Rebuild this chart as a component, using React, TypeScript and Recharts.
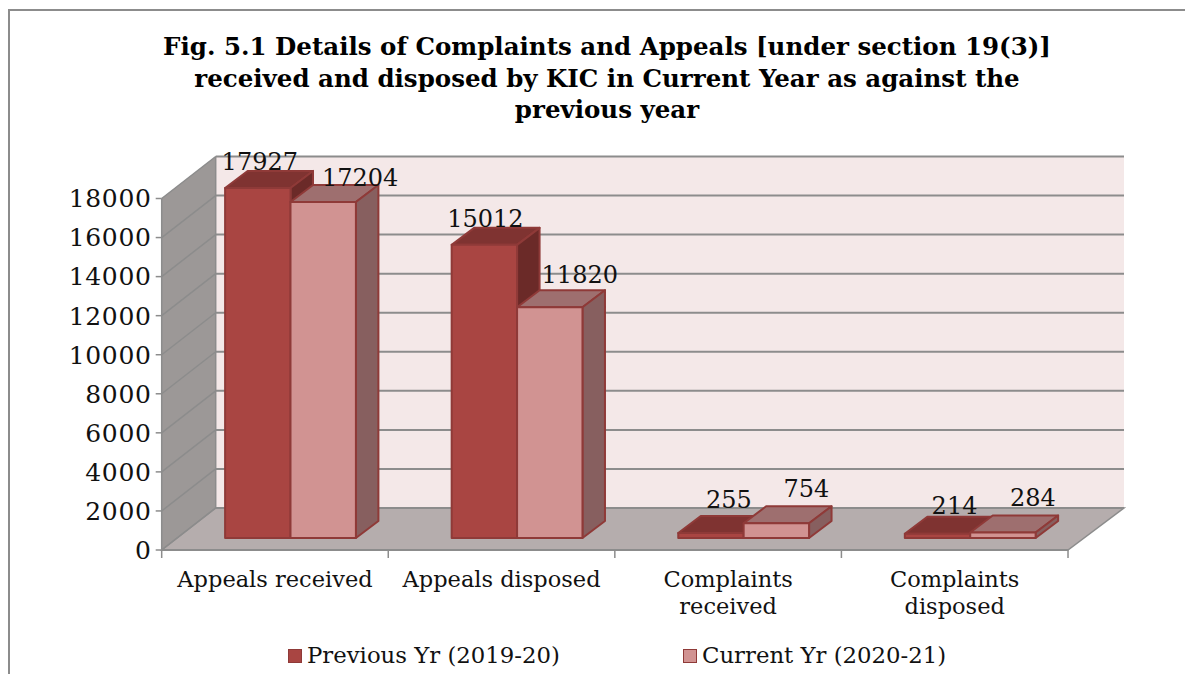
import { BarChart, Bar, XAxis, YAxis, CartesianGrid, Legend, LabelList, ReferenceArea } from "recharts";

const categories = ["Appeals received", "Appeals disposed", "Complaints received", "Complaints disposed"];
const previousYr = [17927, 15012, 255, 214];
const currentYr = [17204, 11820, 754, 284];
const yTicks = [0, 2000, 4000, 6000, 8000, 10000, 12000, 14000, 16000, 18000];
const titleLines = [
  "Fig. 5.1 Details of Complaints and Appeals [under section 19(3)]",
  "received and disposed by KIC in Current Year as against the",
  "previous year",
];

// where Excel dropped the value labels, relative to the bar's front top-centre
const prevLabelNudge = [[2, -26], [1, -26], [18, -33], [17, -28]];
const currLabelNudge = [[37, -24], [30, -32], [30, -34], [30, -34]];

const FONT = "'DejaVu Serif', serif";
const GREY = "#8c8c8c";

const data = categories.map((name, i) => ({ name, previous: previousYr[i], current: currentYr[i] }));

const DEPTH_X = 54;
const DEPTH_X_RIGHT = 56;
const DEPTH_Y = 42;
const BAR_SHIFT_X = 15.4;
const BAR_SHIFT_Y = 12;
const BAR_DX = 22.5;
const BAR_DY = 17;

const darkRed = { front: "#a94542", top: "#7f3331", side: "#6b2a28", edge: "#8f3a38" };
const lightRed = { front: "#d19392", top: "#9e6f6f", side: "#875f5f", edge: "#8f3a38" };

function Room({ x, y, width, height }: any) {
  const b = y + height;
  const r = x + width;
  return (
    <g>
      <polygon points={`${x + DEPTH_X},${y - DEPTH_Y} ${r + DEPTH_X_RIGHT},${y - DEPTH_Y} ${r + DEPTH_X_RIGHT},${b - DEPTH_Y} ${x + DEPTH_X},${b - DEPTH_Y}`} fill="#f4e8e8" />
      <polygon points={`${x},${y} ${x + DEPTH_X},${y - DEPTH_Y} ${x + DEPTH_X},${b - DEPTH_Y} ${x},${b}`} fill="#9c9897" />
      <polygon points={`${x},${b} ${x + DEPTH_X},${b - DEPTH_Y} ${r + DEPTH_X_RIGHT},${b - DEPTH_Y} ${r},${b}`} fill="#b5adad" stroke={GREY} strokeWidth={1.5} />
      <line x1={x + DEPTH_X} x2={x + DEPTH_X} y1={y - DEPTH_Y} y2={b - DEPTH_Y} stroke={GREY} strokeWidth={1.5} />
    </g>
  );
}

function gridLine(props: any) {
  const { x1, x2, y1, key } = props;
  return (
    <g key={key}>
      <line x1={x1} y1={y1} x2={x1 + DEPTH_X} y2={y1 - DEPTH_Y} stroke={GREY} strokeWidth={1.5} />
      <line x1={x1 + DEPTH_X} y1={y1 - DEPTH_Y} x2={x2 + DEPTH_X_RIGHT} y2={y1 - DEPTH_Y} stroke={GREY} strokeWidth={2} />
    </g>
  );
}

function Block({ x, y, width, height, palette }: any) {
  const left = x + BAR_SHIFT_X;
  const top = y - BAR_SHIFT_Y;
  const right = left + width;
  const bottom = top + height;
  return (
    <g stroke={palette.edge} strokeWidth={2} strokeLinejoin="round">
      <polygon points={`${left},${top} ${left + BAR_DX},${top - BAR_DY} ${right + BAR_DX},${top - BAR_DY} ${right},${top}`} fill={palette.top} />
      <polygon points={`${right},${top} ${right + BAR_DX},${top - BAR_DY} ${right + BAR_DX},${bottom - BAR_DY} ${right},${bottom}`} fill={palette.side} />
      <rect x={left} y={top} width={width} height={height} fill={palette.front} />
    </g>
  );
}

function valueLabel(nudges: number[][]) {
  return (props: any) => {
    const { x, y, width, value, index } = props;
    const [dx, dy] = nudges[index];
    return (
      <text x={x + BAR_SHIFT_X + width / 2 + dx} y={y - BAR_SHIFT_Y + dy} textAnchor="middle" dominantBaseline="central" fontFamily={FONT} fontSize={24} fill="#111">
        {value}
      </text>
    );
  };
}

function CategoryTick({ x, y, index, payload }: any) {
  const band = 226.6;
  const words = String(payload.value).split(" ");
  const lines = words[0] === "Complaints" ? words : [String(payload.value)];
  return (
    <g>
      <line x1={x - band / 2} x2={x - band / 2} y1={y - 8} y2={y} stroke={GREY} strokeWidth={1.5} />
      {index === categories.length - 1 && <line x1={x + band / 2} x2={x + band / 2} y1={y - 8} y2={y} stroke={GREY} strokeWidth={1.5} />}
      <text x={x} y={y + 29} textAnchor="middle" fontFamily={FONT} fontSize={22.5} fill="#111">
        {lines.map((line, i) => (
          <tspan key={line} x={x} dy={i === 0 ? 0 : 27}>{line}</tspan>
        ))}
      </text>
    </g>
  );
}

function LegendRow() {
  const entries = [
    { label: "Previous Yr (2019-20)", color: darkRed.front, left: 288 },
    { label: "Current Yr (2020-21)", color: lightRed.front, left: 683 },
  ];
  return (
    <div style={{ position: "relative", height: 30, fontFamily: FONT, fontSize: 22.8, color: "#111" }}>
      {entries.map((e) => (
        <div key={e.label} style={{ position: "absolute", left: e.left, top: 0, whiteSpace: "nowrap", lineHeight: "30px" }}>
          <span style={{ display: "inline-block", boxSizing: "border-box", width: 14, height: 14, marginRight: 5, background: e.color, border: `1.5px solid ${darkRed.edge}` }} />
          {e.label}
        </div>
      ))}
    </div>
  );
}

export default function App() {
  return (
    <div style={{ position: "absolute", left: 0, top: 0, width: 1185, height: 674, overflow: "hidden", background: "#fff" }}>
      <div style={{ position: "absolute", left: 8, top: 9, width: 1200, height: 700, border: `2px solid ${GREY}`, boxSizing: "border-box" }} />
      <div style={{ position: "absolute", left: 0, width: 1214, top: 31, textAlign: "center", fontFamily: FONT, fontWeight: "bold", fontSize: 24.5, lineHeight: "31.5px", color: "#000" }}>
        {titleLines.map((line) => (
          <div key={line}>{line}</div>
        ))}
      </div>
      <BarChart
        width={1185}
        height={674}
        data={data}
        barSize={65.4}
        barGap={0}
        margin={{ top: 198.5, right: 117, bottom: 64, left: 61.7 }}
        style={{ position: "absolute", left: 0, top: 0 }}
      >
        <ReferenceArea y1={0} y2={18000} ifOverflow="visible" shape={Room} zIndex={-200} />
        <CartesianGrid vertical={false} horizontal={gridLine} />
        <XAxis dataKey="name" height={60} interval={0} tick={CategoryTick} tickLine={false} axisLine={{ stroke: GREY, strokeWidth: 2 }} />
        <YAxis
          width={100}
          domain={[0, 18000]}
          ticks={yTicks}
          interval={0}
          tickSize={6}
          tickMargin={4}
          tickLine={{ stroke: GREY, strokeWidth: 1.5 }}
          axisLine={{ stroke: GREY, strokeWidth: 1.5 }}
          tick={{ fontFamily: FONT, fontSize: 25, letterSpacing: 0.7, fill: "#111" }}
        />
        <Legend layout="horizontal" verticalAlign="middle" content={<LegendRow />} wrapperStyle={{ left: 0, top: 640, width: 1185 }} />
        <Bar dataKey="previous" name="Previous Yr (2019-20)" fill={darkRed.front} isAnimationActive={false} shape={(p: any) => <Block {...p} palette={darkRed} />}>
          <LabelList dataKey="previous" content={valueLabel(prevLabelNudge)} />
        </Bar>
        <Bar dataKey="current" name="Current Yr (2020-21)" fill={lightRed.front} isAnimationActive={false} shape={(p: any) => <Block {...p} palette={lightRed} />}>
          <LabelList dataKey="current" content={valueLabel(currLabelNudge)} />
        </Bar>
      </BarChart>
    </div>
  );
}
